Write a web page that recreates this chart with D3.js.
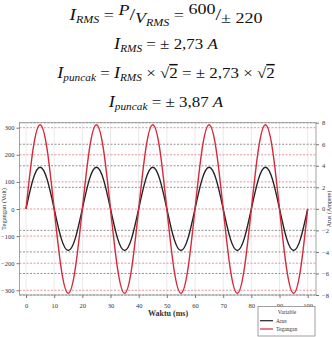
<!DOCTYPE html>
<html>
<head>
<meta charset="utf-8">
<script src="https://cdn.jsdelivr.net/npm/d3@7"></script>
<style>
  body { margin: 0; background: #fff; }
  svg { display: block; font-family: "Liberation Serif", "DejaVu Serif", serif; }
</style>
</head>
<body>
<div class="chart"></div>
<script>
var svgWidth = 332;
var svgHeight = 337;

// time samples (ms), every 2.5 ms
var waktu = [0, 2.5, 5, 7.5, 10, 12.5, 15, 17.5, 20, 22.5, 25, 27.5, 30, 32.5, 35, 37.5,
  40, 42.5, 45, 47.5, 50, 52.5, 55, 57.5, 60, 62.5, 65, 67.5, 70, 72.5, 75, 77.5,
  80, 82.5, 85, 87.5, 90, 92.5, 95, 97.5, 100];

// voltage (Volt)
var tegangan = [0, 220, 311, 220, 0, -220, -311, -220, 0, 220, 311, 220, 0, -220, -311, -220,
  0, 220, 311, 220, 0, -220, -311, -220, 0, 220, 311, 220, 0, -220, -311, -220,
  0, 220, 311, 220, 0, -220, -311, -220, 0];

// current (Ampere)
var arus = [0, 2.74, 3.87, 2.74, 0, -2.74, -3.87, -2.74, 0, 2.74, 3.87, 2.74, 0, -2.74, -3.87, -2.74,
  0, 2.74, 3.87, 2.74, 0, -2.74, -3.87, -2.74, 0, 2.74, 3.87, 2.74, 0, -2.74, -3.87, -2.74,
  0, 2.74, 3.87, 2.74, 0, -2.74, -3.87, -2.74, 0];

var xTicks = [0, 10, 20, 30, 40, 50, 60, 70, 80, 90, 100];
var leftTicks = [-300, -200, -100, 0, 100, 200, 300];
var rightTicks = [-8, -6, -4, -2, 0, 2, 4, 6, 8];
var legendNames = ["Arus", "Tegangan"];

var plot = { left: 19.5, right: 316, top: 122.7, bottom: 295 };

var svg = d3.select(".chart")
  .append("svg")
  .attr("width", svgWidth)
  .attr("height", svgHeight);

// ---- equations at the top ----
// Cambria Math is wider than Liberation Serif, so stretch a little horizontally
function equation(y, parts, sx) {
  var t = svg.append("text")
    .attr("transform", `translate(166, ${y}) scale(${sx || 1.13}, 1)`)
    .attr("text-anchor", "middle")
    .attr("fill", "#111");
  var prev = 0;
  parts.forEach(function (p) {
    var off = p.off || 0;
    var ts = t.append("tspan")
      .attr("dy", off - prev)
      .attr("font-size", p.size || 15)
      .attr("font-style", p.it ? "italic" : "normal")
      .text(p.s);
    if (p.over) ts.style("text-decoration", "overline");
    prev = off;
  });
  return t;
}

equation(20, [
  { s: "I", it: true, size: 16 }, { s: "RMS", it: true, size: 10, off: 3 },
  { s: " = " }, { s: "P", it: true, off: -5 }, { s: "/", size: 17 },
  { s: "V", it: true, off: 3 }, { s: "RMS", it: true, size: 10, off: 6 },
  { s: " = " }, { s: "600", off: -6 }, { s: "/", size: 17 }, { s: "± 220", off: 3 }
], 1.2);
equation(49, [
  { s: "I", it: true, size: 16 }, { s: "RMS", it: true, size: 10, off: 3 },
  { s: " = ± 2,73 " }, { s: "A", it: true }
]);
equation(78, [
  { s: "I", it: true, size: 16 }, { s: "puncak", it: true, size: 10, off: 3 },
  { s: " = " }, { s: "I", it: true, size: 16 }, { s: "RMS", it: true, size: 10, off: 3 },
  { s: " × √" }, { s: "2", over: true }, { s: " = ± 2,73 × √" }, { s: "2", over: true }
]);
equation(107, [
  { s: "I", it: true, size: 16 }, { s: "puncak", it: true, size: 10, off: 3 },
  { s: " = ± 3,87 " }, { s: "A", it: true }
]);

// ---- scales ----
var x = d3.scaleLinear().domain([0, 100]).range([26, 307.7]);
var yLeft = d3.scaleLinear().domain([-300, 300]).range([290.3, 127.7]);
var yRight = d3.scaleLinear().domain([-8, 8]).range([295, 122.7]);

var chartGroup = svg.append("g");

// vertical grid
chartGroup.append("g").selectAll("line")
  .data(xTicks)
  .enter()
  .append("line")
  .attr("x1", d => x(d)).attr("x2", d => x(d))
  .attr("y1", plot.top).attr("y2", plot.bottom)
  .attr("stroke", "#e4e4e4")
  .attr("stroke-width", 0.8);

// red dashed grid (left axis)
chartGroup.append("g").selectAll("line")
  .data(leftTicks)
  .enter()
  .append("line")
  .attr("x1", plot.left).attr("x2", plot.right)
  .attr("y1", d => yLeft(d)).attr("y2", d => yLeft(d))
  .attr("stroke", "#e07a80")
  .attr("stroke-width", 0.8)
  .attr("stroke-dasharray", "2,1.5");

// gray dashed grid (right axis)
chartGroup.append("g").selectAll("line")
  .data(rightTicks.filter(d => d !== 0))
  .enter()
  .append("line")
  .attr("x1", plot.left).attr("x2", plot.right)
  .attr("y1", d => yRight(d)).attr("y2", d => yRight(d))
  .attr("stroke", "#777")
  .attr("stroke-width", 0.8)
  .attr("stroke-dasharray", "2,1.5");

// frame
chartGroup.append("rect")
  .attr("x", plot.left).attr("y", plot.top)
  .attr("width", plot.right - plot.left).attr("height", plot.bottom - plot.top)
  .attr("fill", "none")
  .attr("stroke", "#999")
  .attr("stroke-width", 0.9);

// axes
function styleAxis(g) {
  g.select(".domain").remove();
  g.selectAll(".tick line").attr("stroke", "#777");
  g.selectAll(".tick text")
    .attr("fill", "#333")
    .attr("font-size", 6.5)
    .attr("font-family", "Liberation Serif, serif");
}

chartGroup.append("g")
  .attr("transform", `translate(0, ${plot.bottom})`)
  .call(d3.axisBottom(x).tickValues(xTicks).tickSize(3).tickPadding(5))
  .call(styleAxis);

chartGroup.append("g")
  .attr("transform", `translate(${plot.left}, 0)`)
  .call(d3.axisLeft(yLeft).tickValues(leftTicks).tickSize(3).tickPadding(2))
  .call(styleAxis);

chartGroup.append("g")
  .attr("transform", `translate(${plot.right}, 0)`)
  .call(d3.axisRight(yRight).tickValues(rightTicks).tickSize(3).tickPadding(3))
  .call(styleAxis);

// axis labels
chartGroup.append("text")
  .attr("x", 168).attr("y", 316)
  .attr("text-anchor", "middle")
  .attr("font-size", 8)
  .attr("font-weight", "bold")
  .attr("fill", "#333")
  .text("Waktu (ms)");

chartGroup.append("text")
  .attr("transform", "translate(6, 209) rotate(-90)")
  .attr("text-anchor", "middle")
  .attr("font-size", 6.5)
  .attr("fill", "#333")
  .text("Tegangan (Volt)");

chartGroup.append("text")
  .attr("transform", "translate(330.5, 209) rotate(-90)")
  .attr("text-anchor", "middle")
  .attr("font-size", 6)
  .attr("fill", "#333")
  .text("Arus (Ampere)");

// ---- curves ----
var lineV = d3.line()
  .x((d, i) => x(waktu[i]))
  .y(d => yLeft(d))
  .curve(d3.curveNatural);

var lineI = d3.line()
  .x((d, i) => x(waktu[i]))
  .y(d => yRight(d))
  .curve(d3.curveNatural);

chartGroup.append("path")
  .datum(arus)
  .attr("d", lineI)
  .attr("fill", "none")
  .attr("stroke", "#222")
  .attr("stroke-width", 1.4);

chartGroup.append("path")
  .datum(tegangan)
  .attr("d", lineV)
  .attr("fill", "none")
  .attr("stroke", "#d42a3c")
  .attr("stroke-width", 1.4);

// ---- legend ----
var legend = svg.append("g");
legend.append("rect")
  .attr("x", 258).attr("y", 306.5)
  .attr("width", 57).attr("height", 29.5)
  .attr("fill", "#fff")
  .attr("stroke", "#888")
  .attr("stroke-width", 0.8);

legend.append("text")
  .attr("x", 287).attr("y", 314)
  .attr("text-anchor", "middle")
  .attr("font-size", 5.5)
  .attr("fill", "#333")
  .text("Variable");

var legendColors = ["#222", "#d42a3c"];
legendNames.forEach(function (name, i) {
  var yy = 320.7 + i * 8.3;
  legend.append("line")
    .attr("x1", 260).attr("x2", 273)
    .attr("y1", yy).attr("y2", yy)
    .attr("stroke", legendColors[i])
    .attr("stroke-width", 1.2);
  legend.append("text")
    .attr("x", 276).attr("y", yy + 2)
    .attr("font-size", 5.5)
    .attr("fill", "#333")
    .text(name);
});
</script>
</body>
</html>
